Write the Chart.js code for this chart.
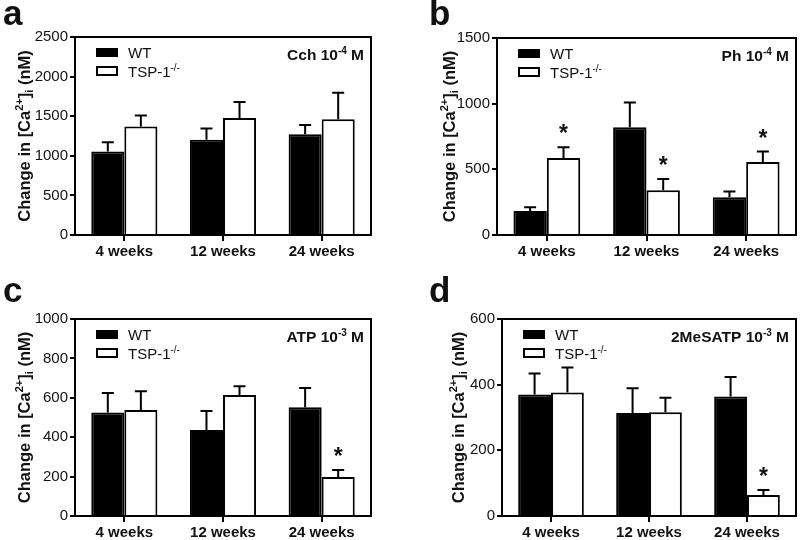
<!DOCTYPE html>
<html>
<head>
<meta charset="utf-8">
<script src="https://cdn.jsdelivr.net/npm/chart.js@4"></script>
<style>
body{margin:0;background:#fff;width:800px;height:540px;position:relative;overflow:hidden}
.p{position:absolute;width:400px;height:270px}
</style>
</head>
<body>
<div class="p" style="left:0;top:0"><canvas id="ca" width="400" height="270"></canvas></div>
<div class="p" style="left:400px;top:0"><canvas id="cb" width="400" height="270"></canvas></div>
<div class="p" style="left:0;top:270px"><canvas id="cc" width="400" height="270"></canvas></div>
<div class="p" style="left:400px;top:270px"><canvas id="cd" width="400" height="270"></canvas></div>
<script>
// data (mean + SEM, nM)
var categories = ["4 weeks", "12 weeks", "24 weeks"];

var wtA = [1055, 1202, 1273];   var wtErrA = [117, 142, 117];
var tspA = [1369, 1478, 1461];  var tspErrA = [139, 201, 335];
var sigA = [false, false, false];

var wtB = [182, 820, 287];      var wtErrB = [30, 189, 45];
var tspB = [587, 341, 555];     var tspErrB = [81, 86, 80];
var sigB = [true, true, true];

var wtC = [526, 437, 552];      var wtErrC = [98, 96, 98];
var tspC = [538, 614, 198];     var tspErrC = [95, 44, 36];
var sigC = [false, false, true];

var wtD = [370, 314, 364];      var wtErrD = [64, 75, 59];
var tspD = [376, 316, 64];      var tspErrD = [76, 44, 15];
var sigD = [false, false, true];

var FONT = "'Liberation Sans', Arial, Helvetica, sans-serif";
Chart.defaults.font.family = FONT;
Chart.defaults.color = '#111';

// draw text made of pieces (for super/subscripts)
function drawRich(ctx, parts, x, y, align) {
    var w = 0;
    parts.forEach(function (p) {
        ctx.font = (p.b ? 'bold ' : '') + p.s + 'px ' + FONT;
        p.w = ctx.measureText(p.t).width;
        w += p.w;
    });
    var cx = x;
    if (align === 'center') cx = x - w / 2;
    if (align === 'right') cx = x - w;
    ctx.textAlign = 'left';
    ctx.textBaseline = 'alphabetic';
    parts.forEach(function (p) {
        ctx.font = (p.b ? 'bold ' : '') + p.s + 'px ' + FONT;
        ctx.fillText(p.t, cx, y + (p.dy || 0));
        cx += p.w;
    });
}

var decoPlugin = {
    id: 'deco',
    afterDatasetsDraw: function (chart, args, o) {
        var ctx = chart.ctx, a = chart.chartArea, ys = chart.scales.y;
        ctx.save();
        ctx.fillStyle = '#111';
        ctx.strokeStyle = '#000';
        ctx.lineWidth = 2;

        // error bars + asterisks
        chart.data.datasets.forEach(function (ds, di) {
            var meta = chart.getDatasetMeta(di);
            meta.data.forEach(function (bar, i) {
                var top = ys.getPixelForValue(ds.data[i] + ds.err[i]);
                ctx.beginPath();
                ctx.moveTo(bar.x, bar.y);
                ctx.lineTo(bar.x, top);
                ctx.moveTo(bar.x - 6, top);
                ctx.lineTo(bar.x + 6, top);
                ctx.stroke();
                if (ds.sig && ds.sig[i]) {
                    ctx.font = 'bold 23px ' + FONT;
                    ctx.textAlign = 'center';
                    ctx.textBaseline = 'alphabetic';
                    ctx.fillText('*', bar.x, top - 6);
                }
            });
        });

        // frame
        ctx.strokeRect(a.left, a.top, a.right - a.left, a.bottom - a.top);

        // legend
        var lx = a.left + 21, ly = a.top + 11;
        ctx.fillStyle = '#000';
        ctx.fillRect(lx, ly, 22, 9);
        ctx.fillStyle = '#fff';
        ctx.fillRect(lx, ly + 19, 22, 9);
        ctx.strokeRect(lx + 1, ly + 19, 20, 8);
        ctx.fillStyle = '#111';
        drawRich(ctx, [{t: 'WT', s: 15}], lx + 32, ly + 10, 'left');
        drawRich(ctx, [{t: 'TSP-1', s: 15}, {t: '-/-', s: 10, dy: -6}], lx + 32, ly + 29, 'left');

        // inset title
        drawRich(ctx, o.title, a.right - 7, a.top + 23, 'right');

        // panel letter
        ctx.font = 'bold 35px ' + FONT;
        ctx.textAlign = 'left';
        ctx.fillText(o.letter, o.letterX, o.letterY);

        // y axis title
        ctx.translate(o.titleX, (a.top + a.bottom) / 2);
        ctx.rotate(-Math.PI / 2);
        drawRich(ctx, [
            {t: 'Change in [Ca', s: 16.5, b: true},
            {t: '2+', s: 11, b: true, dy: -7},
            {t: ']', s: 16.5, b: true},
            {t: 'i', s: 11, b: true, dy: 3},
            {t: ' (nM)', s: 16.5, b: true}
        ], 0, 0, 'center');
        ctx.restore();
    }
};

function makePanel(id, g, wt, wtErr, tsp, tspErr, sig, max, step, title) {
    var ctx = document.getElementById(id).getContext('2d');
    return new Chart(ctx, {
        type: 'bar',
        data: {
            labels: categories,
            datasets: [{
                label: 'WT',
                data: wt, err: wtErr,
                backgroundColor: '#000', borderColor: '#000', borderWidth: 2
            }, {
                label: 'TSP-1-/-',
                data: tsp, err: tspErr, sig: sig,
                backgroundColor: '#fff', borderColor: '#000', borderWidth: 2
            }]
        },
        options: {
            responsive: false,
            animation: false,
            events: [],
            categoryPercentage: 0.67,
            barPercentage: 1.0,
            layout: {padding: {left: 0, top: g.top, right: 400 - g.right, bottom: 0}},
            plugins: {
                legend: {display: false},
                tooltip: {enabled: false},
                deco: {letter: g.letter, letterX: g.letterX, letterY: g.letterY, titleX: g.titleX, title: title}
            },
            scales: {
                x: {
                    afterFit: function (s) { s.height = 270 - g.bottom; },
                    grid: {offset: false, drawOnChartArea: false, tickLength: 6, color: '#000', lineWidth: 2},
                    border: {display: false},
                    ticks: {font: {size: 15, weight: 'bold'}, padding: 2, color: '#111'}
                },
                y: {
                    min: 0, max: max,
                    afterFit: function (s) { s.width = g.left; },
                    grid: {drawOnChartArea: false, tickLength: 5, color: '#000', lineWidth: 2},
                    border: {display: false},
                    ticks: {stepSize: step, font: {size: 15}, padding: 2, color: '#111',
                        callback: function (v) { return String(v); }}
                }
            }
        },
        plugins: [decoPlugin]
    });
}

makePanel('ca', {left: 75, right: 371, top: 37, bottom: 235, letter: 'a', letterX: 3, letterY: 25, titleX: 30},
    wtA, wtErrA, tspA, tspErrA, sigA, 2500, 500,
    [{t: 'Cch 10', s: 15.5, b: true}, {t: '-4', s: 10, b: true, dy: -6}, {t: ' M', s: 15.5, b: true}]);
makePanel('cb', {left: 97, right: 396, top: 38, bottom: 235, letter: 'b', letterX: 29, letterY: 25, titleX: 55},
    wtB, wtErrB, tspB, tspErrB, sigB, 1500, 500,
    [{t: 'Ph 10', s: 15.5, b: true}, {t: '-4', s: 10, b: true, dy: -6}, {t: ' M', s: 15.5, b: true}]);
makePanel('cc', {left: 75, right: 371, top: 49, bottom: 246, letter: 'c', letterX: 3, letterY: 32, titleX: 30},
    wtC, wtErrC, tspC, tspErrC, sigC, 1000, 200,
    [{t: 'ATP 10', s: 15.5, b: true}, {t: '-3', s: 10, b: true, dy: -6}, {t: ' M', s: 15.5, b: true}]);
makePanel('cd', {left: 102, right: 396, top: 49, bottom: 246, letter: 'd', letterX: 29, letterY: 32, titleX: 64},
    wtD, wtErrD, tspD, tspErrD, sigD, 600, 200,
    [{t: '2MeSATP 10', s: 15.5, b: true}, {t: '-3', s: 10, b: true, dy: -6}, {t: ' M', s: 15.5, b: true}]);
</script>
</body>
</html>
